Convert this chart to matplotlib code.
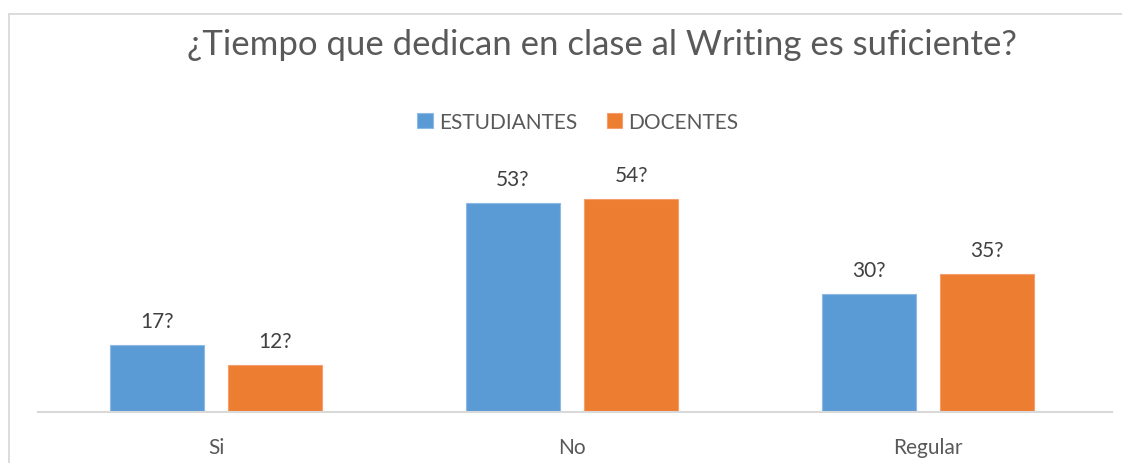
import numpy as np
import matplotlib
matplotlib.use("Agg")
import matplotlib.pyplot as plt
from matplotlib.patches import Rectangle

categories = ["Si", "No", "Regular"]
estudiantes = [17, 53, 30]
docentes = [12, 54, 35]
est_labels = ["17?", "53?", "30?"]
doc_labels = ["12?", "54?", "35?"]
series_names = ["ESTUDIANTES", "DOCENTES"]

BLUE, ORANGE, GREY_TXT, GREY_LINE = "#5B9BD5", "#ED7D31", "#595959", "#D9D9D9"
plt.rcParams["font.family"] = ["Lato", "DejaVu Sans"]

W, H = 1122, 464
fig = plt.figure(figsize=(W / 100, H / 100), dpi=100)

# chart border (runs off the right and bottom edges)
fig.patches.append(Rectangle((9 / W, -0.1), 1.2, (H - 15) / H + 0.1,
                             transform=fig.transFigure, fill=False,
                             edgecolor=GREY_LINE, linewidth=1.3))

ax = fig.add_axes([38 / W, (H - 413) / H, (1112 - 38) / W, 237 / H])
x = np.arange(len(categories))
bw, off = 0.263, 0.166
b1 = ax.bar(x - off, estudiantes, bw, color=BLUE, edgecolor="#8DB9E3", linewidth=0.8,
            label=series_names[0])
b2 = ax.bar(x + off, docentes, bw, color=ORANGE, edgecolor="#F3A06E", linewidth=0.8,
            label=series_names[1])
ax.bar_label(b1, labels=est_labels, padding=10, fontsize=15, color="#404040")
ax.bar_label(b2, labels=doc_labels, padding=10, fontsize=15, color="#404040")

ax.set_xlim(-0.5, 2.5 + 6 / 356)
ax.set_ylim(0, 60)
for s in ["top", "right", "left"]:
    ax.spines[s].set_visible(False)
ax.spines["bottom"].set_color(GREY_LINE)
ax.spines["bottom"].set_linewidth(1.5)
ax.set_yticks([])
ax.set_xticks(x)
ax.set_xticklabels(categories, fontsize=15, color=GREY_TXT)
ax.tick_params(axis="x", length=0, pad=18)

fig.text(602 / W, (H - 45) / H, "¿Tiempo que dedican en clase al Writing es suficiente?",
         ha="center", va="center", fontsize=25, color=GREY_TXT)
fig.legend(handles=[b1, b2], loc="center", bbox_to_anchor=(578 / W, (H - 123) / H),
           ncol=2, frameon=False, fontsize=15, labelcolor=GREY_TXT,
           handlelength=0.75, handleheight=0.75, handletextpad=0.3, columnspacing=1.4)

fig.savefig("out.png", dpi=100)
